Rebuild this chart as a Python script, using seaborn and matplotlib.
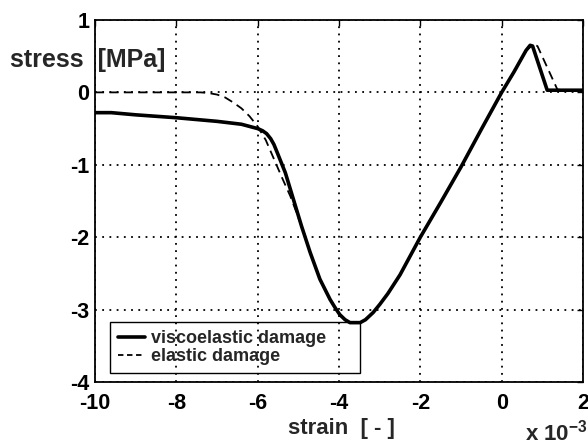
import matplotlib
matplotlib.use("Agg")
import matplotlib.pyplot as plt
from matplotlib.patches import Rectangle
import seaborn as sns
import pandas as pd

# Stress-strain response, strain in units of 1e-3, stress in MPa
visco_strain = [-10.0, -9.6, -9.0, -8.0, -7.0, -6.4, -6.0, -5.88, -5.78, -5.68, -5.6,
                -5.52, -5.42, -5.32, -5.12, -4.92, -4.71, -4.47, -4.22, -4.1, -3.98, -3.85,
                -3.73, -3.48, -3.35, -3.16, -3.0, -2.8, -2.5, -2.0, -1.5, -1.0, -0.5,
                0.0, 0.3, 0.6, 0.7, 0.76, 1.12, 1.5, 2.0]
visco_stress = [-0.28, -0.28, -0.31, -0.35, -0.40, -0.44, -0.50, -0.53, -0.57, -0.64, -0.72,
                -0.83, -0.97, -1.11, -1.48, -1.85, -2.21, -2.58, -2.86, -2.97, -3.07, -3.14,
                -3.18, -3.18, -3.14, -3.04, -2.93, -2.78, -2.52, -2.00, -1.52, -1.03, -0.51,
                0.0, 0.28, 0.58, 0.65, 0.64, 0.03, 0.03, 0.03]

elastic_strain = [-10.0, -8.0, -7.4, -7.2, -7.0, -6.8, -6.6, -6.4, -6.2, -6.0, -5.8,
                  -5.6, -5.4, -5.2, -5.05, -4.92, -4.71, -4.47, -4.22, -4.1, -3.98, -3.85,
                  -3.73, -3.48, -3.35, -3.16, -3.0, -2.8, -2.5, -2.0, -1.5, -1.0, -0.5,
                  0.0, 0.3, 0.6, 0.78, 0.88, 1.37, 1.5, 2.0]
elastic_stress = [0.0, 0.0, 0.0, -0.01, -0.03, -0.07, -0.14, -0.22, -0.33, -0.47, -0.66,
                  -0.92, -1.18, -1.43, -1.65, -1.85, -2.21, -2.58, -2.86, -2.97, -3.07, -3.14,
                  -3.18, -3.18, -3.14, -3.04, -2.93, -2.78, -2.52, -2.00, -1.52, -1.03, -0.51,
                  0.0, 0.28, 0.58, 0.66, 0.64, 0.04, 0.03, 0.03]

x_ticks = [-10, -8, -6, -4, -2, 0, 2]
y_ticks = [-4, -3, -2, -1, 0, 1]

visco = pd.DataFrame({"strain": visco_strain, "stress": visco_stress})
elastic = pd.DataFrame({"strain": elastic_strain, "stress": elastic_stress})

sns.set_style("white")
plt.rcParams["font.family"] = ["Liberation Sans", "DejaVu Sans"]
plt.rcParams["font.weight"] = "bold"

fig = plt.figure(figsize=(5.88, 4.47), dpi=100)
ax = fig.add_axes([0.1616, 0.1454, 0.8299, 0.8099])

sns.lineplot(data=visco, x="strain", y="stress", ax=ax, color="black",
             linewidth=2.6, sort=False, label="viscoelastic damage")
sns.lineplot(data=elastic, x="strain", y="stress", ax=ax, color="black",
             linewidth=1.3, sort=False, dashes=False, label="elastic damage")
ax.lines[1].set_dashes((5, 3))
for ln in ax.lines:
    ln.set_solid_joinstyle("round")
    ln.set_solid_capstyle("round")

ax.set_xlim(-10, 2)
ax.set_ylim(-4, 1)
ax.set_xticks(x_ticks)
ax.set_yticks(y_ticks)
ax.set_xticklabels([str(v) for v in x_ticks])
ax.set_yticklabels([str(v) for v in y_ticks])
ax.tick_params(axis="both", direction="in", length=4, width=1, colors="black",
               labelsize=15.5, top=True, right=True)
ax.tick_params(axis="x", pad=8)
ax.tick_params(axis="y", pad=4)
ax.grid(True, color="black", linestyle=(0, (1, 3)), linewidth=1.3)
for s in ax.spines.values():
    s.set_color("black")
    s.set_linewidth(1.3)

ax.set_xlabel("")
ax.set_ylabel("")
fig.text(341 / 588, 1 - 434 / 447, "strain  [ - ]", ha="center", va="baseline",
         fontsize=16, fontweight="bold")
fig.text(10 / 588, 1 - 60 / 447, "stress  [MPa]", ha="left", va="center",
         fontsize=18, fontweight="bold")
fig.text(525 / 588, 1 - 441 / 447, r"x 10$^{\mathregular{-3}}$", ha="left",
         va="baseline", fontsize=16, fontweight="bold")

# transparent legend: grid lines show through it
leg = ax.legend(loc="lower left", bbox_to_anchor=(0.031, 0.025), frameon=False,
                fontsize=13, handlelength=1.5, handletextpad=0.3, labelspacing=0.05,
                borderpad=0.45, borderaxespad=0)
leg.legend_handles[1].set_dashes((3, 2))

# legend box, drawn wider than the labels on the right
fig.canvas.draw()
bb = leg.get_window_extent()
inv = ax.transAxes.inverted()
(x0, y0), (x1, y1) = inv.transform([(bb.x0, bb.y0), (bb.x1, bb.y1)])
x_right = inv.transform([(360, 0)])[0][0]
ax.add_patch(Rectangle((x0, y0), x_right - x0, y1 - y0, transform=ax.transAxes,
                       fill=False, edgecolor="black", linewidth=1.0, zorder=4))

fig.savefig("out.png", dpi=100)
